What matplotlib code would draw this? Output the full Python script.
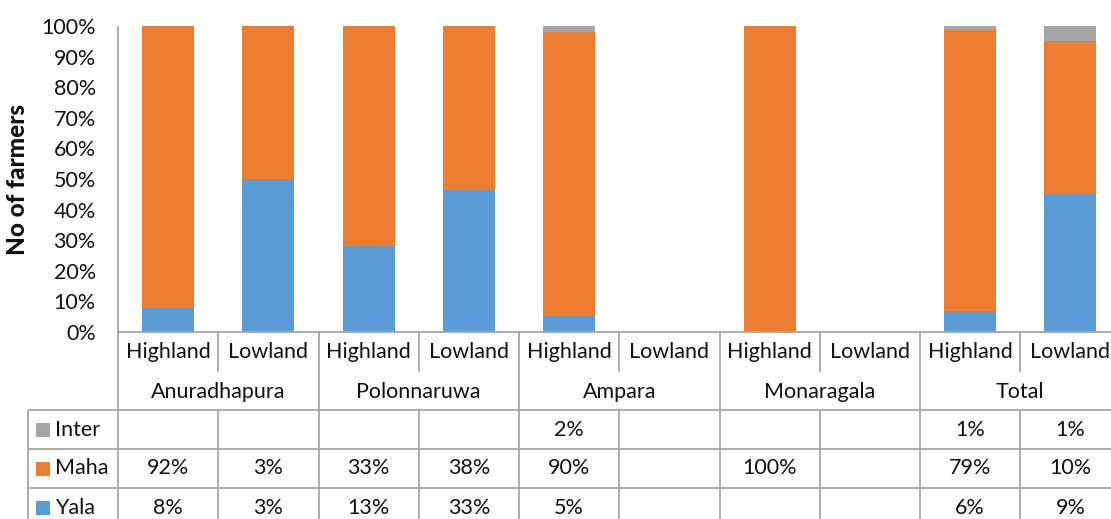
import numpy as np
import matplotlib
matplotlib.use("Agg")
import matplotlib.pyplot as plt

plt.rcParams['font.family'] = ['Lato', 'DejaVu Sans']

# Survey counts by district and land type (shown in the table, bars are the normalised shares)
groups = ["Anuradhapura", "Polonnaruwa", "Ampara", "Monaragala", "Total"]
subcats = ["Highland", "Lowland"]
series_names = ["Inter", "Maha", "Yala"]
inter = [None, None, None, None, 2, None, None, None, 1, 1]
maha = [92, 3, 33, 38, 90, None, 100, None, 79, 10]
yala = [8, 3, 13, 33, 5, None, None, None, 6, 9]
yticks_pct = [0, 10, 20, 30, 40, 50, 60, 70, 80, 90, 100]

colors = {"Yala": "#5B9BD5", "Maha": "#ED7D31", "Inter": "#A5A5A5"}
line_c = "#A6A6A6"
txt_c = "#111111"
FS = 15.5

W, H = 1111, 519
fig = plt.figure(figsize=(W / 100, H / 100), dpi=100)

# pixel geometry
ax_left, ax_top, ax_bottom = 118, 26, 332
col_w = 100.25
ncol = len(groups) * len(subcats)
ax = fig.add_axes([ax_left / W, (H - ax_bottom) / H, ncol * col_w / W, (ax_bottom - ax_top) / H])

def num(v):
    return 0.0 if v is None else float(v)

y_arr = np.array([num(v) for v in yala])
m_arr = np.array([num(v) for v in maha])
i_arr = np.array([num(v) for v in inter])
tot = y_arr + m_arr + i_arr
tot[tot == 0] = 1
y_s, m_s, i_s = y_arr / tot, m_arr / tot, i_arr / tot

x = np.arange(ncol)
bw = 0.52
ax.bar(x, y_s, bw, color=colors["Yala"], linewidth=0)
ax.bar(x, m_s, bw, bottom=y_s, color=colors["Maha"], linewidth=0)
ax.bar(x, i_s, bw, bottom=y_s + m_s, color=colors["Inter"], linewidth=0)

ax.set_xlim(-0.5, ncol - 0.5)
ax.set_ylim(0, 1)
ax.set_yticks([t / 100 for t in yticks_pct])
ax.set_yticklabels([f"{t}%" for t in yticks_pct], fontsize=FS, color=txt_c)
ax.tick_params(axis='y', length=0, pad=16)
ax.set_xticks([])
for s in ["top", "right"]:
    ax.spines[s].set_visible(False)
ax.spines["left"].set_visible(False)
ax.spines["bottom"].set_color(line_c)
ax.spines["bottom"].set_linewidth(1.3)

fig.text(18 / W, 1 - (ax_top + ax_bottom) / 2 / H, "No of farmers", rotation=90,
         ha='center', va='center', fontsize=17.5, fontweight='black', color=txt_c)

# data table below the plot
legend_w = 90
tab_left = ax_left - legend_w
tab_h = H - ax_bottom
tab = fig.add_axes([tab_left / W, 0, (ncol * col_w + legend_w) / W, tab_h / H])
x0 = -0.5 - legend_w / col_w
tab.set_xlim(x0, ncol - 0.5)
tab.set_ylim(tab_h, 0)  # pixels below the axis line
tab.axis("off")

rows = [0, 40, 78, 117, 156, 195]
lk = dict(color=line_c, lw=1.3, solid_capstyle='butt', clip_on=False)

# vertical axis line through the plot and the table
ax_line = fig.add_axes([0, 0, 1, 1], facecolor='none')
ax_line.set_xlim(0, W)
ax_line.set_ylim(H, 0)
ax_line.axis("off")
ax_line.plot([ax_left, ax_left], [ax_top, H], **lk)

for k in range(1, ncol + 1):
    xb = k - 0.5
    if k % 2 == 0:
        tab.plot([xb, xb], [rows[0], rows[-1]], **lk)
    else:
        tab.plot([xb, xb], [rows[0], rows[1]], **lk)
        tab.plot([xb, xb], [rows[2], rows[-1]], **lk)
for r in rows[2:5]:
    tab.plot([x0, ncol - 0.5], [r, r], **lk)
tab.plot([x0, x0], [rows[2], rows[-1]], **lk)

for k in range(ncol):
    tab.text(k, (rows[0] + rows[1]) / 2, subcats[k % 2], ha='center', va='center',
             fontsize=FS, color=txt_c)
for g, name in enumerate(groups):
    tab.text(2 * g + 0.5, (rows[1] + rows[2]) / 2 + 1, name, ha='center', va='center',
             fontsize=FS, color=txt_c)

series_vals = {"Inter": inter, "Maha": maha, "Yala": yala}
for ri, name in enumerate(series_names):
    yc = (rows[2 + ri] + rows[3 + ri]) / 2
    tab.add_patch(plt.Rectangle((x0 + 8 / col_w, yc - 7), 14 / col_w, 14,
                                color=colors[name], lw=0))
    tab.text(x0 + 27 / col_w, yc, name, ha='left', va='center', fontsize=FS, color=txt_c)
    for k, v in enumerate(series_vals[name]):
        if v is not None:
            tab.text(k, yc, f"{v}%", ha='center', va='center', fontsize=FS, color=txt_c)

fig.savefig("out.png", dpi=100)
